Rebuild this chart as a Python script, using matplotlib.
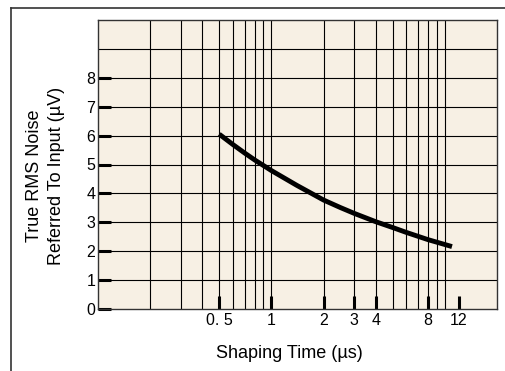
import matplotlib.pyplot as plt
from matplotlib.lines import Line2D
from matplotlib.ticker import NullFormatter

plt.rcParams["font.family"] = ["Liberation Sans", "DejaVu Sans"]

# curva
shaping_time = [0.5, 0.6, 0.7, 0.8, 1, 1.4, 2, 2.5, 3, 4, 5, 6, 8, 11]
rms_noise = [6.05, 5.69, 5.40, 5.16, 4.79, 4.28, 3.77, 3.51, 3.31, 3.02,
             2.82, 2.65, 2.40, 2.16]

x_ticks = [0.5, 1, 2, 3, 4, 8, 12]
x_tick_labels = ["0. 5", "1", "2", "3", "4", "8", "12"]
x_grid = [0.2, 0.3, 0.4, 0.5, 0.6, 0.7, 0.8, 0.9, 1, 2, 3, 4, 5, 6, 7, 8, 9, 10]
y_ticks = [0, 1, 2, 3, 4, 5, 6, 7, 8]
y_grid = [1, 2, 3, 4, 5, 6, 7, 8, 9]

fig = plt.figure(figsize=(5.05, 3.71), dpi=100)
ax = fig.add_axes([98 / 505, 62 / 371, 399 / 505, 289 / 371])
ax.set_facecolor("#f7f0e4")

ax.plot(shaping_time, rms_noise, color="black", linewidth=3.5,
        solid_capstyle="butt", solid_joinstyle="round", zorder=3)

ax.set_xscale("log")
ax.set_xlim(0.1, 20)
ax.set_ylim(0, 10)

# deixa as linhas de grade coincidirem com os ticks principais
ax.xaxis.remove_overlapping_locs = False
ax.yaxis.remove_overlapping_locs = False
ax.set_xticks(x_ticks)
ax.set_xticklabels(x_tick_labels)
ax.set_xticks(x_grid, minor=True)
ax.xaxis.set_minor_formatter(NullFormatter())
ax.set_yticks(y_ticks)
ax.set_yticks(y_grid, minor=True)

ax.tick_params(which="major", direction="in", length=9.5, width=2.2,
               color="black", labelsize=11.5)
ax.tick_params(axis="x", which="major", pad=3)
ax.tick_params(axis="y", which="major", pad=2)
ax.tick_params(which="minor", length=0)
ax.grid(True, which="minor", color="black", linewidth=0.8)
ax.set_axisbelow(True)

for s in ax.spines.values():
    s.set_color("#333333")
    s.set_linewidth(1.0)

ax.set_xlabel("Shaping Time (µs)", fontsize=13)
ax.xaxis.set_label_coords(0.479, -0.125)
ax.set_ylabel("True RMS Noise\nReferred To Input (µV)", fontsize=13,
              linespacing=1.35)
ax.yaxis.set_label_coords(-0.132, 0.46)
ax.yaxis.label.set_va("center")

# moldura externa (cortada a direita e embaixo)
fig.add_artist(Line2D([10.5 / 505, 1.0], [1 - 7.5 / 371, 1 - 7.5 / 371],
                      color="#333333", linewidth=1.2))
fig.add_artist(Line2D([10.5 / 505, 10.5 / 505], [0.0, 1 - 7.5 / 371],
                      color="#333333", linewidth=1.2))

fig.savefig("out.png", dpi=100)
